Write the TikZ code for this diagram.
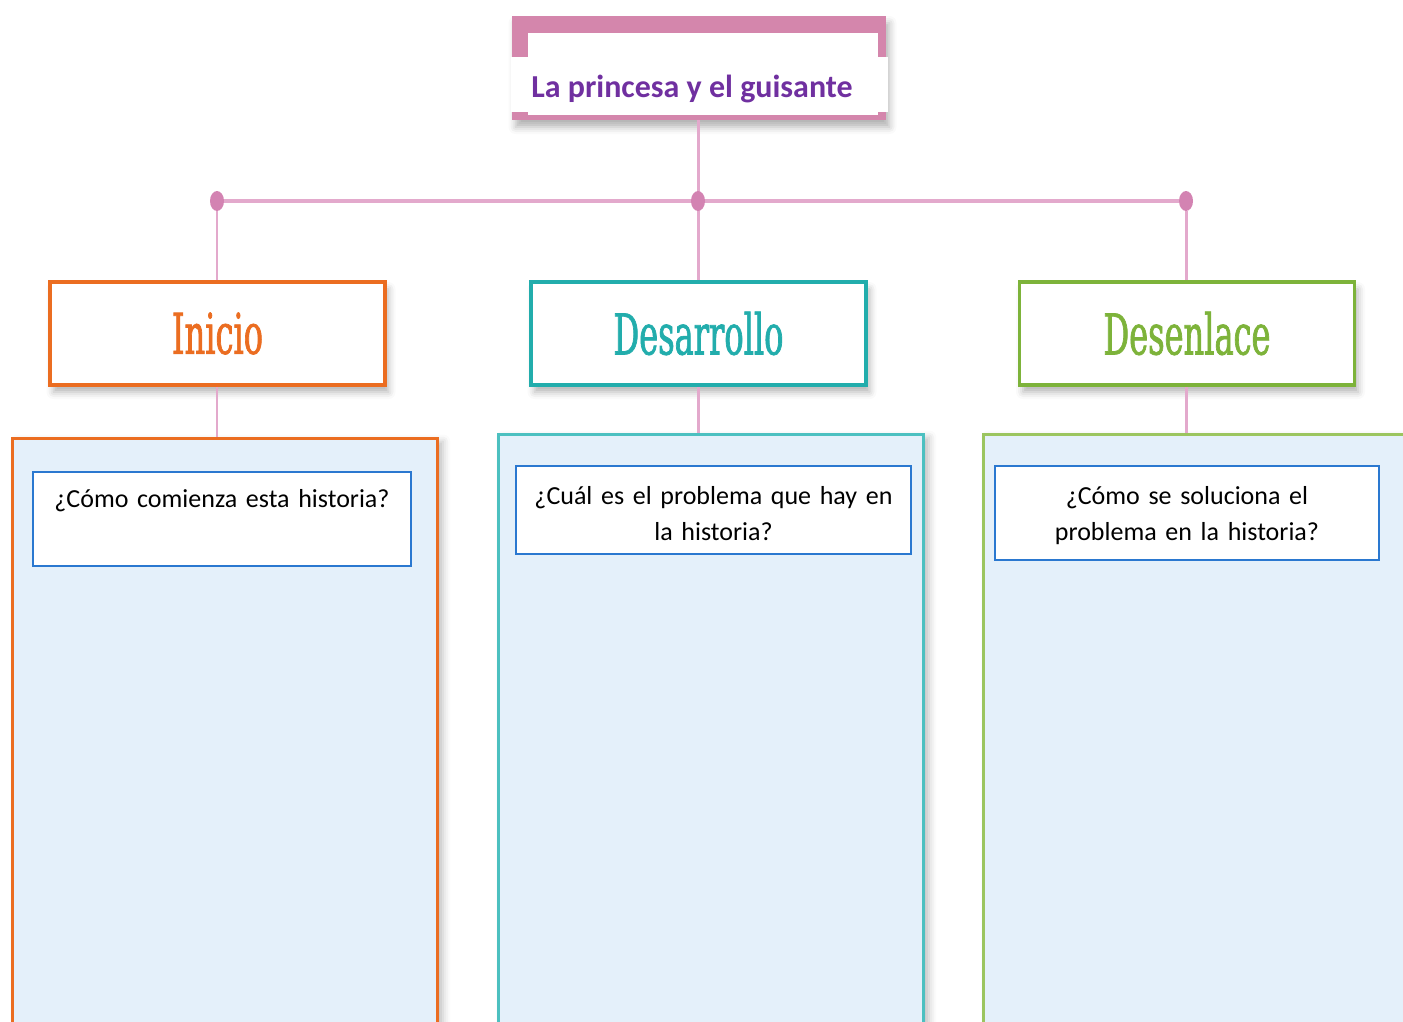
\documentclass[tikz,border=0pt]{standalone}
\usepackage{fontspec}
\setmainfont{Carlito}
\newfontfamily\headfont[FakeStretch=0.57,FakeBold=1.2]{DejaVu Serif}
\usetikzlibrary{shapes.geometric,shadows.blur}

\definecolor{titlepink}{HTML}{D486AC}
\definecolor{linkpink}{HTML}{E3A9CC}
\definecolor{dotpink}{HTML}{D383B2}
\definecolor{titlepurple}{HTML}{7030A0}
\definecolor{inicio}{HTML}{EB6D21}
\definecolor{desarrollo}{HTML}{22ADAC}
\definecolor{desenlace}{HTML}{7DB33A}
\definecolor{desarrollobody}{HTML}{4CC0C0}
\definecolor{desenlacebody}{HTML}{9BC55F}
\definecolor{bodyfill}{HTML}{E4F0FA}
\definecolor{qblue}{HTML}{2A78D0}

\begin{document}
\begin{tikzpicture}[x=0.02cm, y=-0.02cm,
    link style/.style={draw=linkpink, line width=1.7pt},
    dot style/.style={ellipse, fill=dotpink, minimum width=0.28cm, minimum height=0.4cm, inner sep=0pt},
    head style/.style={draw=#1, text=#1, line width=2.2pt, fill=white,
        minimum width=6.7cm, minimum height=2.06cm, inner sep=0pt,
        blur shadow={shadow xshift=2pt, shadow yshift=-4pt, shadow blur radius=4pt, shadow opacity=30},
        font=\headfont\fontsize{32}{32}\selectfont},
    body style/.style={draw=#1, line width=1.7pt, fill=bodyfill, minimum height=12.4cm, inner sep=0pt,
        blur shadow={shadow xshift=3pt, shadow yshift=-2pt, shadow blur radius=4pt, shadow opacity=25}},
    question style/.style={draw=qblue, line width=0.8pt, fill=white, inner sep=0pt, align=center,
        font=\fontsize{14.8}{20.6}\selectfont},]
    \useasboundingbox (0,0) rectangle (1403,1021);
    \clip (0,0) rectangle (1403,1021);

    % title
    \node[fill=titlepink, minimum width=7.48cm, minimum height=2.08cm,
        blur shadow={shadow xshift=2pt, shadow yshift=-4pt, shadow blur radius=4pt, shadow opacity=30}]
        (titleframe) at (699,68) {};
    \node[fill=white, minimum width=7.0cm, minimum height=1.64cm] (titleinner) at (703,74) {};
    \node[fill=white, minimum width=7.54cm, minimum height=1.1cm] (titleband) at (699.5,84.5) {};
    \node[anchor=west, inner sep=0pt, text=titlepurple, font=\bfseries\fontsize{18.2}{20}\selectfont]
        (title) at (531,89) {La princesa y el guisante};

    \coordinate (bar) at (698,201);
    \node[dot style] (dleft) at (217,201) {};
    \node[dot style] (dright) at (1186,201) {};

    % headings
    \node[head style=inicio] (inicio) at (217.5,333.5) {Inicio};
    \node[head style=desarrollo] (desarrollo) at (698.5,333.5) {Desarrollo};
    \node[head style=desenlace] (desenlace) at (1187,333.5) {Desenlace};

    % bodies
    \node[body style=inicio, minimum width=8.52cm] (body1) at (225,748) {};
    \node[body style=desarrollobody, minimum width=8.52cm] (body2) at (711,744) {};
    \node[body style=desenlacebody, minimum width=9.14cm] (body3) at (1211.5,744) {};

    \node[question style, text width=7.56cm, text height=0.7cm, text depth=1.18cm] (q1) at (222,519)
        {¿Cómo comienza esta historia?};
    \node[question style, text width=7.9cm, text height=0.77cm, text depth=0.99cm] (q2) at (713.5,510)
        {¿Cuál es el problema que hay en\\la historia?};
    \node[question style, text width=7.68cm, text height=0.77cm, text depth=1.11cm] (q3) at (1187,513)
        {¿Cómo se soluciona el\\problema en la historia?};

    % connectors
    \draw[link style] (bar |- titleframe.south) -- (bar);
    \draw[link style, line width=2.6pt] (dleft) -- (dright);
    \draw[link style] (dleft) -- (dleft |- inicio.north);
    \draw[link style] (bar) -- (bar |- desarrollo.north);
    \draw[link style] (dright) -- (dright |- desenlace.north);
    \draw[link style] (dleft |- inicio.south) -- (dleft |- body1.north);
    \draw[link style] (bar |- desarrollo.south) -- (bar |- body2.north);
    \draw[link style] (dright |- desenlace.south) -- (dright |- body3.north);
    \node[dot style] (dmid) at (bar) {};

\end{tikzpicture}
\end{document}
